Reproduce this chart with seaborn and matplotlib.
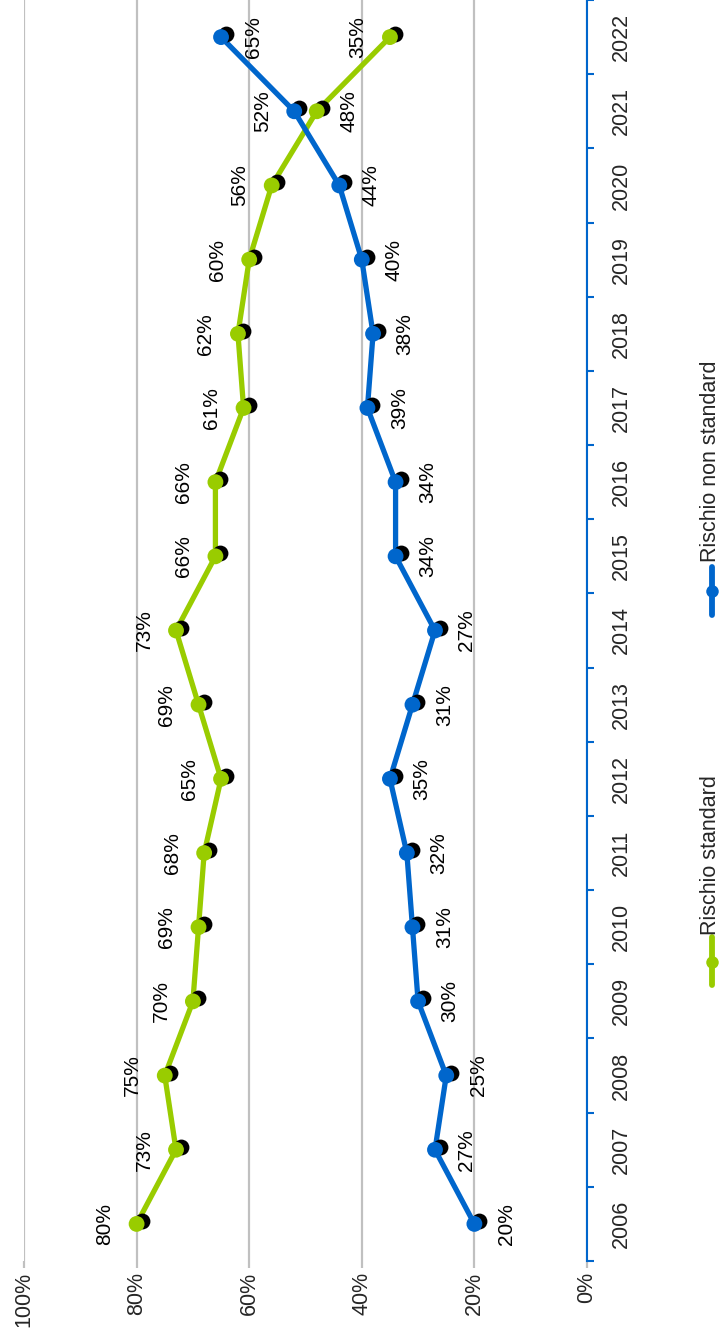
import seaborn as sns
import pandas as pd
import matplotlib.pyplot as plt
from matplotlib import transforms
from matplotlib.lines import Line2D

# dati
anni = [2006, 2007, 2008, 2009, 2010, 2011, 2012, 2013, 2014,
        2015, 2016, 2017, 2018, 2019, 2020, 2021, 2022]
standard = [80, 73, 75, 70, 69, 68, 65, 69, 73, 66, 66, 61, 62, 60, 56, 48, 35]
non_standard = [20, 27, 25, 30, 31, 32, 35, 31, 27, 34, 34, 39, 38, 40, 44, 52, 65]
serie = ['Rischio standard', 'Rischio non standard']
tick_pct = [0, 20, 40, 60, 80, 100]

VERDE = '#99cc00'
BLU = '#0066cc'
GRIGIO = '#c0c0c0'

df = pd.DataFrame({
    'anno': anni * 2,
    'valore': standard + non_standard,
    'serie': [serie[0]] * len(anni) + [serie[1]] * len(anni),
})

sns.set_style('white')
plt.rcParams['font.family'] = ['Liberation Sans', 'DejaVu Sans']

fig = plt.figure(figsize=(7.23, 13.39), dpi=100)
ax = fig.add_axes([24 / 723, 1 - 1261 / 1339, (587 - 24) / 723, 1261 / 1339])

palette = {serie[0]: VERDE, serie[1]: BLU}
sns.lineplot(data=df, x='valore', y='anno', hue='serie', palette=palette,
             orient='y', sort=False, lw=3.8, legend=False, ax=ax, zorder=2)

# ombra dei marker
ombra = transforms.offset_copy(ax.transData, fig=fig, x=5, y=3, units='dots')
ax.scatter(df['valore'], df['anno'], s=130, color='black', lw=0,
           transform=ombra, zorder=3)
sns.scatterplot(data=df, x='valore', y='anno', hue='serie', palette=palette,
                s=130, linewidth=0, legend=False, ax=ax, zorder=4)

# etichette dei valori
swap = {2021}
for nome, valori in zip(serie, [standard, non_standard]):
    for a, v in zip(anni, valori):
        sopra = (nome == serie[0]) != (a in swap)
        dx = -32 if sopra else 32
        ax.annotate(f'{v}%', (v, a), xytext=(dx, 0), textcoords='offset pixels',
                    rotation=90, ha='center', va='center', fontsize=15,
                    color='black', zorder=5)

ax.set_xlim(100, 0)
ax.set_ylim(2005.5, 2022.4)
ax.set_xticks(tick_pct)
ax.set_xticklabels([f'{t}%' for t in tick_pct])
ax.grid(axis='x', color=GRIGIO, lw=1.6)
ax.grid(axis='y', visible=False)
ax.set_xlabel('')
ax.set_ylabel('')

ax.tick_params(axis='x', bottom=True, direction='out', length=5, width=1.6,
               color=GRIGIO, labelrotation=90, pad=3, labelsize=15.5)

ax.yaxis.tick_right()
ax.set_yticks(anni)
ax.set_yticks([a - 0.5 for a in anni] + [2022.5], minor=True)
ax.tick_params(axis='y', which='major', length=0, pad=17, labelrotation=90,
               labelsize=15.5)
ax.tick_params(axis='y', which='minor', right=True, left=False, direction='out',
               length=5, width=1.5, color=BLU)
for lbl in ax.get_yticklabels():
    lbl.set_va('center')

for s in ['top', 'left', 'bottom']:
    ax.spines[s].set_visible(False)
ax.spines['right'].set_color(BLU)
ax.spines['right'].set_linewidth(1.5)

# legenda
leg_x = 712 / 723
for nome, col, y0, y1, ym, yt in [
        (serie[0], VERDE, 937, 985, 962, 935),
        (serie[1], BLU, 567, 615, 591, 562)]:
    fig.add_artist(Line2D([leg_x, leg_x], [1 - y0 / 1339, 1 - y1 / 1339],
                          color=col, lw=4.2, transform=fig.transFigure))
    fig.add_artist(Line2D([leg_x], [1 - ym / 1339], color=col, marker='o',
                          ms=9, mew=0, transform=fig.transFigure))
    fig.text(711 / 723, 1 - yt / 1339, nome, rotation=90, ha='center',
             va='bottom', fontsize=15.5)

fig.savefig('out.png', dpi=100)
